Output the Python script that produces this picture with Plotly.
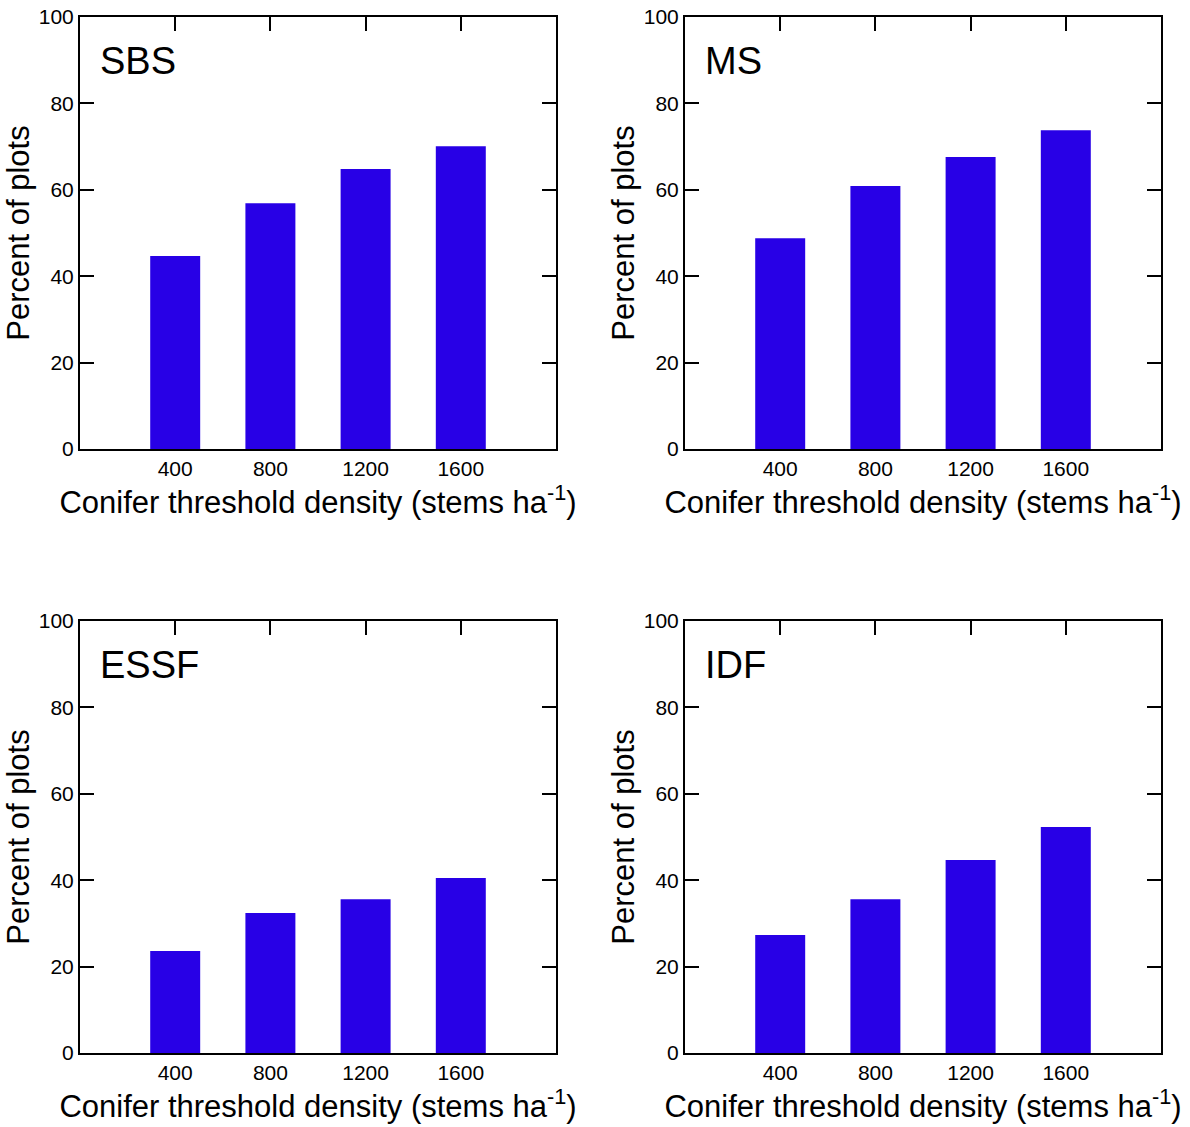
import plotly.graph_objects as go

densities = [400, 800, 1200, 1600]
tick_labels = ["400", "800", "1200", "1600"]
zones = ["SBS", "MS", "ESSF", "IDF"]
sbs = [44.7, 56.9, 64.8, 70.1]
ms = [48.8, 60.9, 67.6, 73.8]
essf = [23.6, 32.4, 35.6, 40.5]
idf = [27.3, 35.6, 44.7, 52.3]
series = [sbs, ms, essf, idf]

W, H = 1190, 1127
FONT = "Liberation Sans, Arial"
BAR = "#2800E6"

panels = [  # (x0, x1, ytop, ybottom) in pixels
    (80, 556, 17, 449),
    (685, 1161, 17, 449),
    (80, 556, 621, 1053),
    (685, 1161, 621, 1053),
]

fig = go.Figure()
layout = dict(width=W, height=H, margin=dict(l=0, r=0, t=0, b=0),
              paper_bgcolor="white", plot_bgcolor="white",
              showlegend=False, font=dict(family=FONT, color="black"))
annotations = []
for i, (zone, vals, (px0, px1, pyt, pyb)) in enumerate(zip(zones, series, panels)):
    n = i + 1
    xa = f"xaxis{'' if n == 1 else n}"
    ya = f"yaxis{'' if n == 1 else n}"
    xref = f"x{'' if n == 1 else n}"
    yref = f"y{'' if n == 1 else n}"
    fig.add_trace(go.Bar(x=densities, y=vals, width=210, marker=dict(color=BAR, line=dict(width=0)),
                         xaxis=xref, yaxis=yref))
    xdom = [px0 / W, px1 / W]
    ydom = [1 - pyb / H, 1 - pyt / H]
    layout[xa] = dict(domain=xdom, anchor=yref, range=[0, 2000], automargin=False,
                      tickvals=densities, ticktext=tick_labels, ticks="",
                      showline=True, linecolor="black", linewidth=2, mirror=True,
                      showgrid=False, zeroline=False, ticklabelstandoff=0,
                      tickfont=dict(size=21, family=FONT),
                      title=dict(text="Conifer threshold density (stems ha<sup>-1</sup>)",
                                 font=dict(size=31, family=FONT), standoff=0))
    # top axis carrying the inward ticks
    m = n + 4
    layout[f"xaxis{m}"] = dict(domain=xdom, anchor=yref, overlaying=xref, side="top",
                               range=[0, 2000], tickvals=densities, ticks="inside",
                               ticklen=14, tickwidth=2, tickcolor="black", automargin=False,
                               showticklabels=False, showgrid=False, zeroline=False,
                               showline=False)
    layout[ya] = dict(domain=ydom, anchor=xref, range=[0, 100], dtick=20, automargin=False,
                      ticks="inside", ticklen=14, tickwidth=2, tickcolor="black",
                      showline=True, linecolor="black", linewidth=2, mirror="ticks",
                      showgrid=False, zeroline=False, ticklabelstandoff=0,
                      tickfont=dict(size=21, family=FONT),
                      title=dict(text="Percent of plots", font=dict(size=31, family=FONT), standoff=0))
    annotations.append(dict(text=zone, xref=f"{xref} domain", yref=f"{yref} domain",
                            x=0.038, y=0.898, xanchor="left", yanchor="middle",
                            showarrow=False, font=dict(size=38, family=FONT)))
    # dummy trace to activate top axis
    fig.add_trace(go.Scatter(x=[None], y=[None], xaxis=f"x{m}", yaxis=yref, showlegend=False))

layout["annotations"] = annotations
fig.update_layout(**layout)
fig.write_html("out.html")
